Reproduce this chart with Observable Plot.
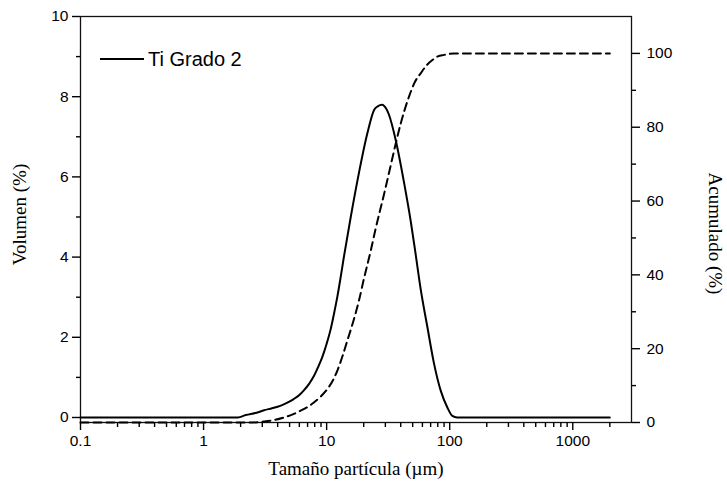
<!DOCTYPE html>
<html><head><meta charset="utf-8">
<script src="https://cdn.jsdelivr.net/npm/d3@7"></script>
<script src="https://cdn.jsdelivr.net/npm/@observablehq/plot@0.6"></script>
<style>
body{margin:0;background:#fff;}
#wrap{position:relative;width:727px;height:488px;}
#legend{position:absolute;left:100px;top:46px;height:26px;font-family:"Liberation Sans",Arial,sans-serif;font-size:20px;display:flex;align-items:center;color:#000;}
#legend .sw{display:inline-block;width:44px;height:0;border-top:2px solid #000;margin-right:4px;}
</style></head><body>
<div id="wrap"><div id="legend"><span class="sw"></span><span id="legtxt"></span></div></div>
<script>
// Volume distribution (solid)
const volSize  = [0.1, 1.9, 2.2, 2.7, 3.1, 3.6, 4.2, 4.8, 5.4, 6.0, 6.5, 7.2, 7.9, 8.5, 9.2, 10.0, 10.8, 11.5, 12.2, 13.0, 13.8, 15.7, 18.3, 21.4, 24.3, 26.0, 28.2, 30.5, 32.1, 36.4, 42.6, 48.2, 53.0, 58.1, 65.9, 74.5, 84.5, 95.7, 105, 115, 2000];
const volValue = [0, 0, 0.06, 0.12, 0.18, 0.23, 0.29, 0.37, 0.46, 0.56, 0.67, 0.84, 1.04, 1.25, 1.5, 1.84, 2.21, 2.6, 3.0, 3.5, 4.0, 5.0, 6.1, 7.08, 7.67, 7.76, 7.8, 7.7, 7.55, 6.92, 5.85, 4.9, 4.05, 3.2, 2.25, 1.35, 0.67, 0.25, 0.04, 0, 0];
// Cumulative (dashed)
const cumSize  = [0.1, 2.4, 3.09, 3.8, 4.5, 5.3, 6.15, 7.0, 7.88, 9.0, 10.1, 11.2, 12.2, 13.4, 14.7, 16.5, 18.3, 20.1, 22.8, 25.0, 29.2, 32.1, 36.4, 40.0, 46.7, 52.0, 58.1, 65.0, 72.3, 80.0, 90.0, 108, 2000];
const cumValue = [0, 0, 0.27, 0.7, 1.35, 2.2, 3.2, 4.2, 5.4, 7.1, 9.0, 11.3, 14.0, 17.8, 22.1, 27.5, 33.0, 39.0, 46.5, 52.5, 61.7, 67.6, 75.5, 81.0, 88.3, 92.2, 94.6, 96.8, 98.2, 99.2, 99.6, 100, 100];

const xMajor = [0.1, 1, 10, 100, 1000];
const xMinor = [0.2,0.3,0.4,0.5,0.6,0.7,0.8,0.9, 2,3,4,5,6,7,8,9, 20,30,40,50,60,70,80,90, 200,300,400,500,600,700,800,900, 2000];
const yLeftMajor = [0, 2, 4, 6, 8, 10];
const yLeftMinor = [1, 3, 5, 7, 9];
const yRightMajor = [0, 20, 40, 60, 80, 100];
const yRightMinor = [10, 30, 50, 70, 90];
const legendLabel = "Ti Grado 2";
const xTitle = "Tamaño partícula (µm)";
const yLeftTitle = "Volumen (%)";
const yRightTitle = "Acumulado (%)";

const xDomain = [0.1, 3000];
const leftDomain = [-0.125, 10];
const rightDomain = [0, 110];
const k = (leftDomain[1] - leftDomain[0]) / (rightDomain[1] - rightDomain[0]);
const toLeft = v => leftDomain[0] + (v - rightDomain[0]) * k;
const fromLeft = v => rightDomain[0] + (v - leftDomain[0]) / k;

const vol = volSize.map((s, i) => ({size: s, v: volValue[i]}));
const cum = cumSize.map((s, i) => ({size: s, v: cumValue[i]}));

const sans = "Liberation Sans, Arial, sans-serif";
const serif = "Liberation Serif, Times New Roman, serif";
const ink = "#000";

const chart = Plot.plot({
  width: 727,
  height: 488,
  marginLeft: 80,
  marginRight: 96,
  marginTop: 16,
  marginBottom: 66,
  style: {fontFamily: sans, fontSize: "15.5px", color: "#000", background: "#fff"},
  x: {type: "log", domain: xDomain, axis: null},
  y: {domain: leftDomain, axis: null},
  marks: [
    Plot.frame({stroke: "#111", strokeWidth: 1.3}),
    Plot.axisY(yLeftMajor, {anchor: "left", tickSize: 8, tickPadding: 4, label: null, stroke: ink, strokeWidth: 1.4, tickFormat: d => String(d)}),
    Plot.axisY(yLeftMinor, {anchor: "left", tickSize: 4, label: null, stroke: ink, strokeWidth: 1.4, tickFormat: () => ""}),
    Plot.axisY(yRightMajor.map(toLeft), {anchor: "right", tickSize: 8, tickPadding: 7, label: null, stroke: ink, strokeWidth: 1.4, tickFormat: d => String(Math.round(fromLeft(d)))}),
    Plot.axisY(yRightMinor.map(toLeft), {anchor: "right", tickSize: 4, label: null, stroke: ink, strokeWidth: 1.4, tickFormat: () => ""}),
    Plot.axisX(xMajor, {anchor: "bottom", tickSize: 8, tickPadding: 4, label: null, stroke: ink, strokeWidth: 1.4, tickFormat: d => String(d)}),
    Plot.axisX(xMinor, {anchor: "bottom", tickSize: 5, label: null, stroke: ink, strokeWidth: 1.4, tickFormat: () => ""}),
    Plot.line(cum, {x: "size", y: d => toLeft(d.v), stroke: "#000", strokeWidth: 2, strokeDasharray: "8,5", curve: "monotone-x"}),
    Plot.line(vol, {x: "size", y: "v", stroke: "#000", strokeWidth: 2, curve: "monotone-x"}),
    Plot.text([yLeftTitle], {frameAnchor: "left", dx: -61, dy: -5, rotate: -90, text: d => d, textAnchor: "middle", lineAnchor: "middle", fontFamily: serif, fontSize: 19, fill: "#000"}),
    Plot.text([yRightTitle], {frameAnchor: "right", dx: 84, dy: 14, rotate: 90, text: d => d, textAnchor: "middle", lineAnchor: "middle", fontFamily: serif, fontSize: 19, fill: "#000"}),
    Plot.text([xTitle], {frameAnchor: "bottom", dy: 46, text: d => d, textAnchor: "middle", lineAnchor: "middle", fontFamily: serif, fontSize: 19, fill: "#000"})
  ]
});
document.getElementById("wrap").prepend(chart);
document.getElementById("legtxt").textContent = legendLabel;
</script>
</body></html>
